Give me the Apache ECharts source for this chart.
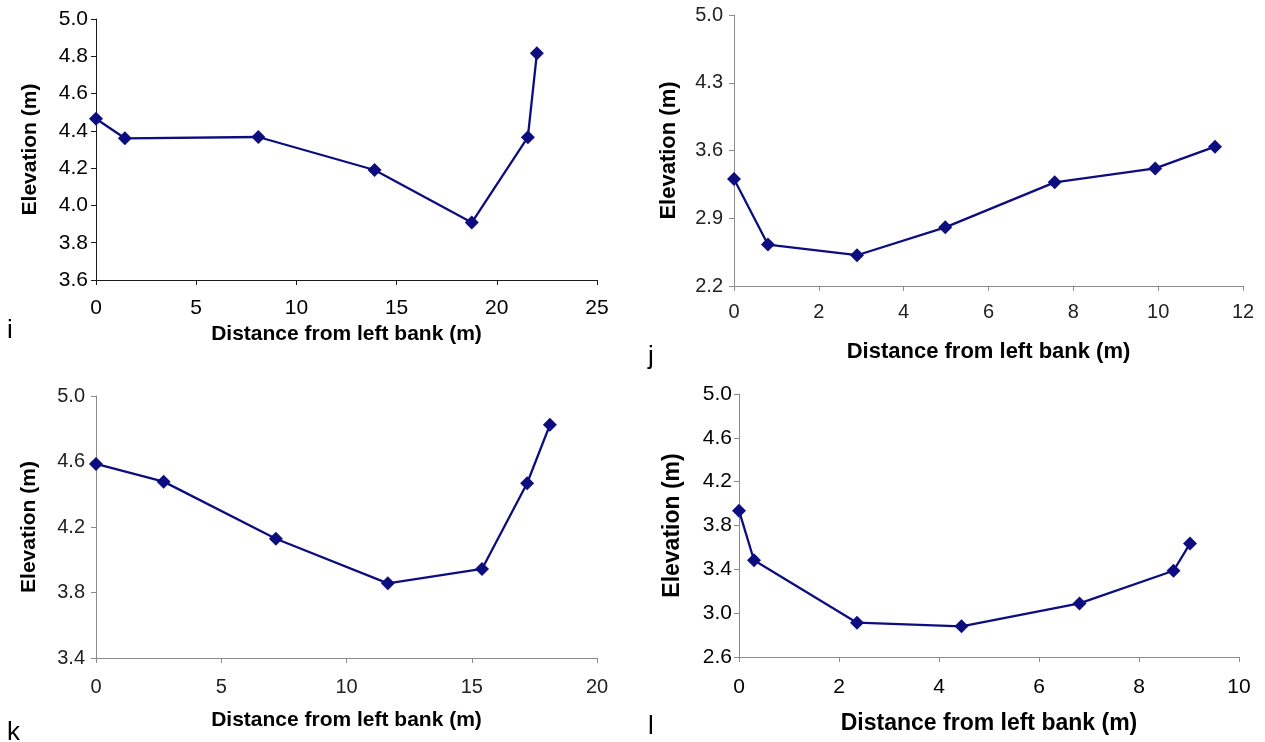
<!DOCTYPE html>
<html>
<head>
<meta charset="utf-8">
<script src="https://cdn.jsdelivr.net/npm/echarts@6/dist/echarts.min.js"></script>
<style>
html,body{margin:0;padding:0;background:#fff;}
#main{width:1265px;height:742px;}
</style>
</head>
<body>
<div id="main"></div>
<script>
// ---- data (distance from left bank, elevation) ----
const iDist = [0, 1.44, 8.1, 13.9, 18.75, 21.55, 22.0];
const iElev = [4.465, 4.36, 4.367, 4.19, 3.908, 4.366, 4.816];
const jDist = [0, 0.80, 2.90, 4.98, 7.56, 9.93, 11.34];
const jElev = [3.306, 2.628, 2.518, 2.806, 3.271, 3.415, 3.64];
const kDist = [0, 2.70, 7.18, 11.65, 15.41, 17.21, 18.12];
const kElev = [4.585, 4.477, 4.128, 3.856, 3.944, 4.467, 4.824];
const lDist = [0, 0.30, 2.36, 4.45, 6.81, 8.69, 9.02];
const lElev = [3.935, 3.483, 2.913, 2.880, 3.089, 3.387, 3.635];

// ---- tick labels ----
const iYTicks = [3.6, 3.8, 4.0, 4.2, 4.4, 4.6, 4.8, 5.0];
const jYTicks = [2.2, 2.9, 3.6, 4.3, 5.0];
const kYTicks = [3.4, 3.8, 4.2, 4.6, 5.0];
const lYTicks = [2.6, 3.0, 3.4, 3.8, 4.2, 4.6, 5.0];
const iXTicks = [0, 5, 10, 15, 20, 25];
const jXTicks = [0, 2, 4, 6, 8, 10, 12];
const kXTicks = [0, 5, 10, 15, 20];
const lXTicks = [0, 2, 4, 6, 8, 10];

const panelLetters = ['i', 'j', 'k', 'l'];
const xTitle = 'Distance from left bank (m)';
const yTitle = 'Elevation (m)';

const FONT = '"Liberation Sans", Arial, sans-serif';

const panels = [
  {dist: iDist, elev: iElev, yt: iYTicks, xt: iXTicks,
   grid: {left: 96, top: 19, width: 501, height: 261},
   axisColor: '#1a1a1a', tickFont: 21, tickColor: '#000', xMargin: 18, yMargin: 8,
   xNameGap: 44, yNameGap: 55, xNameSize: 21, yNameSize: 21},
  {dist: jDist, elev: jElev, yt: jYTicks, xt: jXTicks,
   grid: {left: 734, top: 15, width: 509, height: 271},
   axisColor: '#8c8c8c', tickFont: 20, tickColor: '#222', xMargin: 16, yMargin: 11,
   xNameGap: 55, yNameGap: 54, xNameSize: 22, yNameSize: 22},
  {dist: kDist, elev: kElev, yt: kYTicks, xt: kXTicks,
   grid: {left: 96, top: 396, width: 501, height: 262},
   axisColor: '#8c8c8c', tickFont: 20, tickColor: '#222', xMargin: 19, yMargin: 11,
   xNameGap: 52, yNameGap: 56, xNameSize: 21, yNameSize: 21},
  {dist: lDist, elev: lElev, yt: lYTicks, xt: lXTicks,
   grid: {left: 739, top: 394, width: 500, height: 263},
   axisColor: '#8c8c8c', tickFont: 21, tickColor: '#000', xMargin: 20, yMargin: 7,
   xNameGap: 55, yNameGap: 55, xNameSize: 23, yNameSize: 23}
];

const grids = [], xAxes = [], yAxes = [], series = [];
panels.forEach((p, idx) => {
  grids.push(Object.assign({containLabel: false}, p.grid));
  const lineStyle = {color: p.axisColor, width: 1};
  xAxes.push({
    type: 'value', gridIndex: idx,
    min: p.xt[0], max: p.xt[p.xt.length - 1],
    interval: p.xt[1] - p.xt[0],
    splitLine: {show: false},
    axisLine: {show: true, onZero: false, lineStyle},
    axisTick: {show: true, inside: false, length: 5, lineStyle},
    axisLabel: {color: p.tickColor, fontSize: p.tickFont, fontFamily: FONT, margin: p.xMargin},
    name: xTitle, nameLocation: 'middle', nameGap: p.xNameGap,
    nameTextStyle: {color: '#000', fontWeight: 'bold', fontSize: p.xNameSize, fontFamily: FONT}
  });
  yAxes.push({
    type: 'value', gridIndex: idx,
    min: p.yt[0], max: p.yt[p.yt.length - 1],
    splitLine: {show: false},
    axisLine: {show: true, onZero: false, lineStyle},
    axisTick: {show: true, inside: false, length: 5, lineStyle, customValues: p.yt},
    axisLabel: {color: p.tickColor, fontSize: p.tickFont, fontFamily: FONT, margin: p.yMargin,
      customValues: p.yt, formatter: v => Number(v).toFixed(1)},
    name: yTitle, nameLocation: 'middle', nameGap: p.yNameGap,
    nameTextStyle: {color: '#000', fontWeight: 'bold', fontSize: p.yNameSize, fontFamily: FONT}
  });
  series.push({
    type: 'line', xAxisIndex: idx, yAxisIndex: idx,
    data: p.dist.map((d, k) => [d, p.elev[k]]),
    symbol: 'diamond', symbolSize: 14,
    lineStyle: {color: '#0d0d80', width: 2.3},
    itemStyle: {color: '#0d0d80'},
    animation: false
  });
});

const letterPos = [[7, 318], [648, 344], [7, 720], [648, 714]];
const graphic = panelLetters.map((t, k) => ({
  type: 'text', left: letterPos[k][0], top: letterPos[k][1],
  style: {text: t, fontSize: 26, fontFamily: FONT, fill: '#000'}
}));

const chart = echarts.init(document.getElementById('main'), null, {renderer: 'canvas'});
chart.setOption({
  animation: false,
  backgroundColor: '#fff',
  grid: grids, xAxis: xAxes, yAxis: yAxes, series, graphic
});
</script>
</body>
</html>
